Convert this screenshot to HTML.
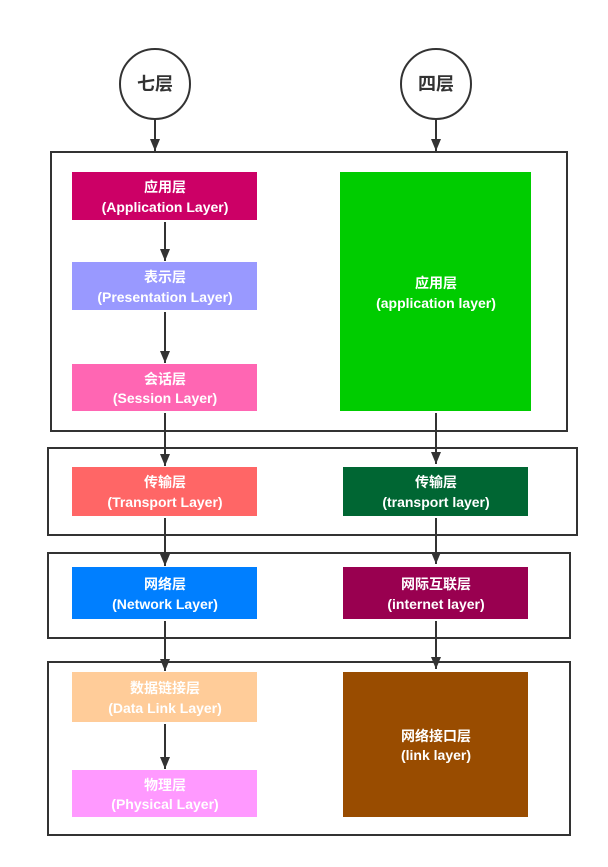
<!DOCTYPE html>
<html><head><meta charset="utf-8"><style>
html,body{margin:0;padding:0;background:#fff;}
svg{display:block;}
text{font-family:"Liberation Sans","Noto Sans CJK SC",sans-serif;font-weight:bold;font-size:14px;fill:#fff;text-anchor:middle;}
</style></head><body>
<svg width="608" height="867" viewBox="0 0 608 867" xmlns="http://www.w3.org/2000/svg">
<defs><marker id="a" markerWidth="12" markerHeight="10" refX="12" refY="5" orient="auto" markerUnits="userSpaceOnUse" viewBox="0 0 12 10"><path d="M0,0 L12,5 L0,10 Z" fill="#333"/></marker></defs>
<g fill="none" stroke="#333" stroke-width="2">
<circle cx="155" cy="84" r="35" fill="#fff"/>
<circle cx="436" cy="84" r="35" fill="#fff"/>
<rect x="51" y="152" width="516" height="279"/>
<rect x="48" y="448" width="529" height="87"/>
<rect x="48" y="553" width="522" height="85"/>
<rect x="48" y="662" width="522" height="173"/>
</g>
<text x="155" y="90" style="fill:#333;font-size:18px">七层</text>
<text x="436" y="90" style="fill:#333;font-size:18px">四层</text>
<g stroke="#333" stroke-width="2">
<line x1="155" y1="119" x2="155" y2="151" marker-end="url(#a)"/>
<line x1="436" y1="119" x2="436" y2="151" marker-end="url(#a)"/>
<line x1="165" y1="222" x2="165" y2="261" marker-end="url(#a)"/>
<line x1="165" y1="312" x2="165" y2="363" marker-end="url(#a)"/>
<line x1="165" y1="413" x2="165" y2="466" marker-end="url(#a)"/>
<line x1="165" y1="518" x2="165" y2="566" marker-end="url(#a)"/>
<line x1="165" y1="621" x2="165" y2="671" marker-end="url(#a)"/>
<line x1="165" y1="724" x2="165" y2="769" marker-end="url(#a)"/>
<line x1="436" y1="413" x2="436" y2="464" marker-end="url(#a)"/>
<line x1="436" y1="518" x2="436" y2="564" marker-end="url(#a)"/>
<line x1="436" y1="621" x2="436" y2="669" marker-end="url(#a)"/>
</g>
<rect x="72" y="172" width="185" height="48" fill="#cc0066"/>
<text x="165" y="192">应用层</text><text x="165" y="212">(Application Layer)</text>
<rect x="72" y="262" width="185" height="48" fill="#9999ff"/>
<text x="165" y="282">表示层</text><text x="165" y="302">(Presentation Layer)</text>
<rect x="72" y="364" width="185" height="47" fill="#ff66b3"/>
<text x="165" y="384">会话层</text><text x="165" y="403">(Session Layer)</text>
<rect x="72" y="467" width="185" height="49" fill="#ff6666"/>
<text x="165" y="487">传输层</text><text x="165" y="507">(Transport Layer)</text>
<rect x="72" y="567" width="185" height="52" fill="#007fff"/>
<text x="165" y="589">网络层</text><text x="165" y="609">(Network Layer)</text>
<rect x="72" y="672" width="185" height="50" fill="#ffcc99"/>
<text x="165" y="693">数据链接层</text><text x="165" y="713">(Data Link Layer)</text>
<rect x="72" y="770" width="185" height="47" fill="#ff99ff"/>
<text x="165" y="790">物理层</text><text x="165" y="809">(Physical Layer)</text>
<rect x="340" y="172" width="191" height="239" fill="#00cc00"/>
<text x="436" y="288">应用层</text><text x="436" y="308">(application layer)</text>
<rect x="343" y="467" width="185" height="49" fill="#006633"/>
<text x="436" y="487">传输层</text><text x="436" y="507">(transport layer)</text>
<rect x="343" y="567" width="185" height="52" fill="#990050"/>
<text x="436" y="589">网际互联层</text><text x="436" y="609">(internet layer)</text>
<rect x="343" y="672" width="185" height="145" fill="#994c00"/>
<text x="436" y="741">网络接口层</text><text x="436" y="760">(link layer)</text>
</svg>
</body></html>
